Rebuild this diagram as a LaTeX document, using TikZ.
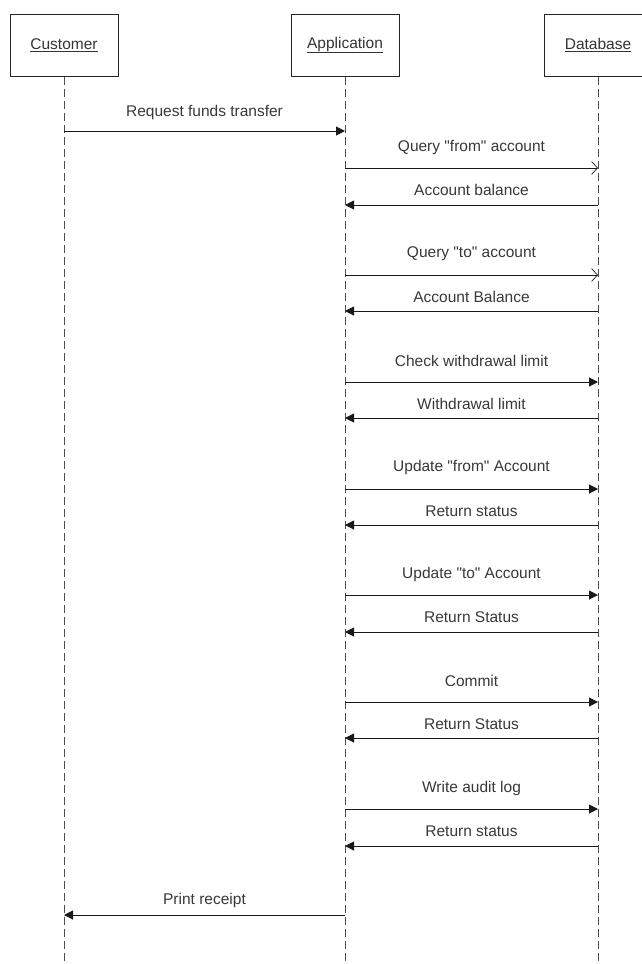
\documentclass[tikz,border=0pt]{standalone}
\usepackage{fontspec}
\setmainfont{Liberation Sans}[Ligatures=TeXOff]
\usetikzlibrary{arrows.meta}
\newcommand{\qd}{\char"22\relax}
\begin{document}
\begin{tikzpicture}[x=1pt,y=-1pt,
  actor/.style={draw=black!85, line width=1pt, minimum width=108pt, minimum height=62pt, inner sep=0pt, font=\fontsize{15.5}{18}\selectfont, text=black!80},
  life/.style={draw=black!70, line width=0.9pt, dash pattern=on 8pt off 4pt},
  msg/.style={draw=black!90, line width=1pt, -{Triangle[length=9pt,width=9pt]}},
  omsg/.style={draw=black!90, line width=1pt, -{Straight Barb[length=6pt,width=13pt,line width=0.7pt]}},
  lbl/.style={font=\fontsize{15.5}{18}\selectfont, text=black!78, inner sep=0pt}]
\useasboundingbox (0,0) rectangle (641,964);
\node[actor] (cust) at (64,45) {\underline{Customer}};
\node[actor] (app) at (345,45) {\underline{Application}};
\node[actor] (db) at (598,45) {\underline{Database}};
\coordinate (custEnd) at (64,964);
\coordinate (appEnd) at (345,964);
\coordinate (dbEnd) at (598,964);
\draw[life] (cust.south) -- (custEnd);
\draw[life] (app.south) -- (appEnd);
\draw[life] (db.south) -- (dbEnd);
\foreach \yy/\ly/\src/\dst/\sty/\txt [count=\i] in {
  131/112/cust/app/msg/Request funds transfer,
  168/147/app/db/omsg/Query \qd{}from\qd{} account,
  205/190/db/app/msg/Account balance,
  275/254/app/db/omsg/Query \qd{}to\qd{} account,
  311/297/db/app/msg/Account Balance,
  382/361/app/db/msg/Check withdrawal limit,
  418/404/db/app/msg/Withdrawal limit,
  489/467/app/db/msg/Update \qd{}from\qd{} Account,
  525/511/db/app/msg/Return status,
  595/574/app/db/msg/Update \qd{}to\qd{} Account,
  632/617/db/app/msg/Return Status,
  702/681/app/db/msg/Commit,
  738/724/db/app/msg/Return Status,
  809/788/app/db/msg/Write audit log,
  846/831/db/app/msg/Return status,
  915/900/app/cust/msg/Print receipt}{
  \coordinate (s\i) at (\src |- 0,\yy);
  \coordinate (d\i) at (\dst |- 0,\yy);
  \draw[\sty] (s\i) -- (d\i);
  \path (s\i) -- (d\i) coordinate[pos=0.5] (m\i);
  \node[lbl] (l\i) at (m\i |- 0,\ly) {\txt};
}
\end{tikzpicture}
\end{document}
